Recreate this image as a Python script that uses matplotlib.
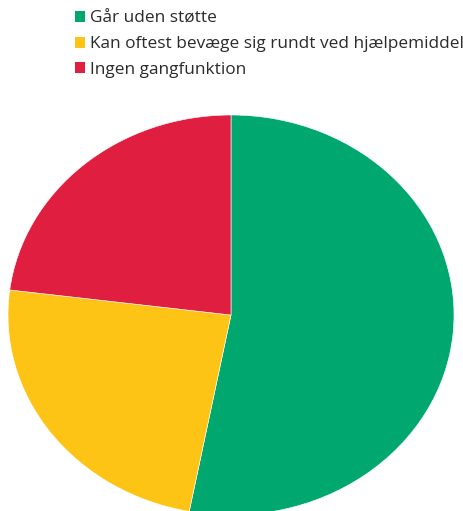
import matplotlib.pyplot as plt
from matplotlib.patches import Patch

labels = ['Går uden støtte', 'Kan oftest bevæge sig rundt ved hjælpemiddel', 'Ingen gangfunktion']
shares = [53, 24, 23]
colors = ['#00A76F', '#FDC415', '#E01F40']

fig = plt.figure(figsize=(4.64, 5.11), dpi=100)
ax = fig.add_axes([0, 0, 1, 1])

ax.pie(shares, colors=colors, startangle=90, counterclock=False, radius=1,
       wedgeprops={'edgecolor': 'white', 'linewidth': 0.4})
# stretch the pie horizontally: 223 px wide radius vs 200 px tall
ax.set_aspect('auto')
ax.set_xlim(-231 / 223, (464 - 231) / 223)
ax.set_ylim(-196 / 200, (511 - 196) / 200)
ax.axis('off')

handles = [Patch(facecolor=c, edgecolor='none') for c in colors]
fig.legend(handles, labels, loc='upper left', bbox_to_anchor=(75 / 464, 1 - 11 / 511),
           frameon=False, borderpad=0, borderaxespad=0,
           handlelength=0.6, handleheight=0.6, handletextpad=0.3,
           labelspacing=0.55, labelcolor='#2b2b2b',
           prop={'family': 'Open Sans', 'size': 12.4})

fig.savefig('out.png', dpi=100)
